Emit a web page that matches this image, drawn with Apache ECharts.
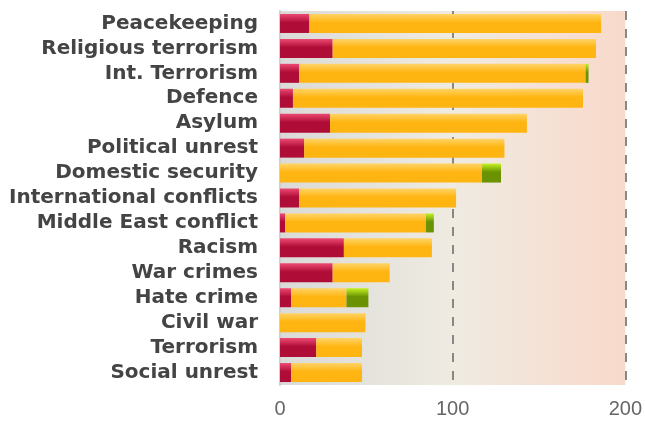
<!DOCTYPE html>
<html><head><meta charset="utf-8">
<script src="https://cdn.jsdelivr.net/npm/echarts@6/dist/echarts.min.js"></script>
<style>html,body{margin:0;padding:0;background:#fff}#c{width:645px;height:423px}</style>
</head><body><div id="c"></div>
<script>
const categories = ["Peacekeeping","Religious terrorism","Int. Terrorism","Defence","Asylum","Political unrest","Domestic security","International conflicts","Middle East conflict","Racism","War crimes","Hate crime","Civil war","Terrorism","Social unrest"];
const redValues    = [17, 30.5, 11, 7.5, 29, 14, 0, 11, 3, 37, 30.5, 6.5, 0, 21, 6.5];
const orangeValues = [169, 152.5, 166, 168, 114, 116, 117, 91, 81.5, 51, 33, 32, 49.5, 26.5, 41];
const greenValues  = [0, 0, 1.7, 0, 0, 0, 11, 0, 4.6, 0, 0, 12.7, 0, 0, 0];
const xTicks = [0, 100, 200];

function vgrad(top, bottom){
  return {type:'linear',x:0,y:0,x2:0,y2:1,colorStops:[{offset:0,color:top},{offset:0.45,color:bottom},{offset:1,color:bottom}]};
}
const chart = echarts.init(document.getElementById('c'));
const mk = (name, data, top, bottom) => ({
  name, type:'bar', stack:'s', data, barWidth:19,
  itemStyle:{color:vgrad(top,bottom)}, animation:false
});
chart.setOption({
  animation:false,
  grid:{left:280,right:17.5,top:11,bottom:38,show:true,borderWidth:0,
    backgroundColor:{type:'linear',x:0,y:0,x2:1,y2:0,colorStops:[
      {offset:0,color:'#dadad8'},{offset:0.5,color:'#efebe1'},{offset:0.88,color:'#f7ddd0'},{offset:1,color:'#f8dacb'}]}},
  xAxis:{type:'value',min:xTicks[0],max:xTicks[xTicks.length-1],interval:100,
    axisLine:{show:false},axisTick:{show:false},
    axisLabel:{color:'#666',fontSize:20,fontFamily:'Liberation Sans, Arial, sans-serif',margin:14,
      formatter:v=>xTicks.includes(v)?String(v):''},
    splitLine:{show:true,lineStyle:{color:['rgba(0,0,0,0)','#888','#888'],type:[9,9],width:2}}},
  yAxis:{type:'category',data:categories,inverse:true,
    axisLine:{show:true,lineStyle:{color:'#cfcfcf',width:2}},axisTick:{show:false},
    axisLabel:{interval:0,color:'#444',fontSize:20,fontWeight:'bold',fontFamily:'DejaVu Sans, sans-serif',margin:22}},
  series:[
    mk('Negative',redValues,'#ec4a72','#b00c38'),
    mk('Neutral',orangeValues,'#ffd468','#ffb511'),
    mk('Positive',greenValues,'#c4f222','#6a9202')
  ]
});
</script></body></html>
